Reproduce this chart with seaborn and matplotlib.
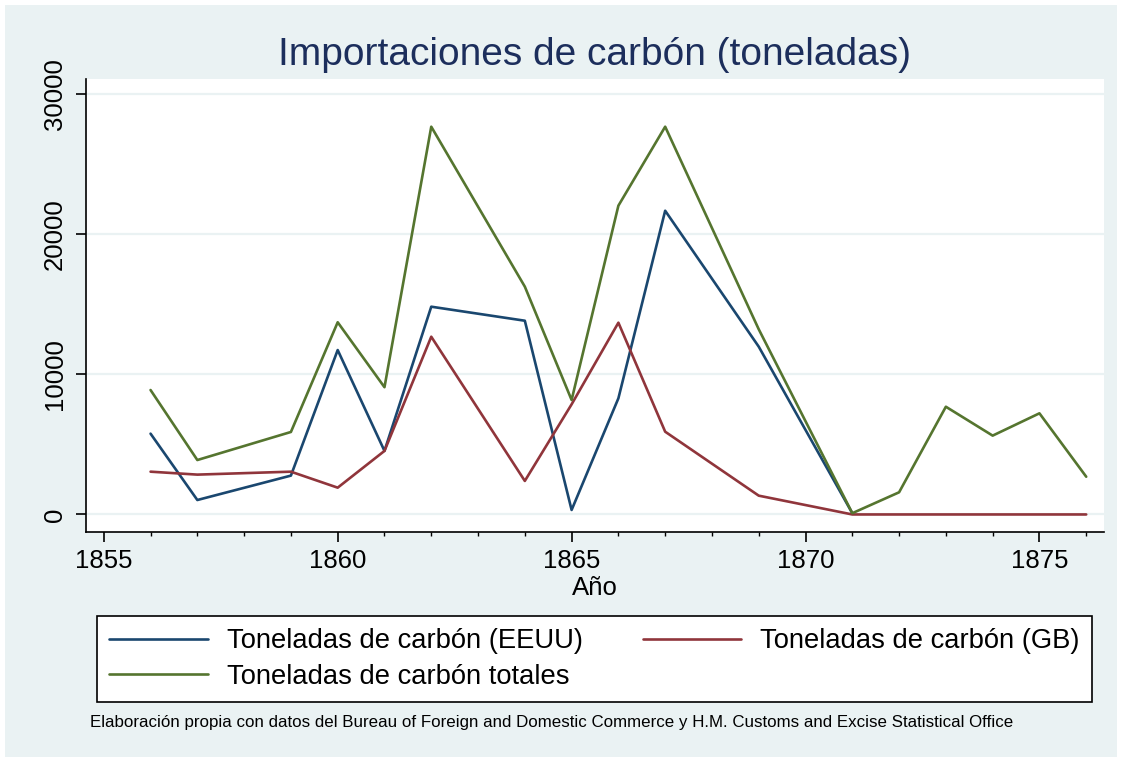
import matplotlib
matplotlib.use("Agg")
import matplotlib.pyplot as plt
import seaborn as sns
import pandas as pd
from matplotlib.patches import Rectangle
from matplotlib.ticker import MultipleLocator

# ---- data ----
years_eeuu = [1856, 1857, 1859, 1860, 1861, 1862, 1864, 1865, 1866, 1867, 1869, 1871]
eeuu = [5760, 1030, 2770, 11720, 4530, 14810, 13810, 320, 8280, 21650, 11960, 90]

years_gb = [1856, 1857, 1859, 1860, 1861, 1862, 1864, 1865, 1866, 1867, 1869, 1871,
            1872, 1873, 1874, 1875, 1876]
gb = [3050, 2840, 3050, 1910, 4530, 12670, 2390, 7850, 13670, 5900, 1340, 0,
      0, 0, 0, 0, 0]

years_total = years_gb
total = [8870, 3880, 5880, 13700, 9070, 27640, 16240, 8160, 22010, 27640, 13200, 90,
         1580, 7680, 5620, 7210, 2690]

label_eeuu = "Toneladas de carbón (EEUU)"
label_gb = "Toneladas de carbón (GB)"
label_total = "Toneladas de carbón totales"

title = "Importaciones de carbón (toneladas)"
xlabel = "Año"
note = ("Elaboración propia con datos del Bureau of Foreign and Domestic Commerce "
        "y H.M. Customs and Excise Statistical Office")
yticks = [0, 10000, 20000, 30000]
xticks = [1855, 1860, 1865, 1870, 1875]

df = pd.concat([
    pd.DataFrame({"Año": years_eeuu, "valor": eeuu, "serie": label_eeuu}),
    pd.DataFrame({"Año": years_gb, "valor": gb, "serie": label_gb}),
    pd.DataFrame({"Año": years_total, "valor": total, "serie": label_total}),
], ignore_index=True)

palette = {label_eeuu: "#1a476f", label_gb: "#90353b", label_total: "#55752f"}

sns.set_theme(style="white")
plt.rcParams["font.family"] = ["Liberation Sans", "DejaVu Sans"]
plt.rcParams["text.color"] = "black"
plt.rcParams["axes.labelcolor"] = "black"
plt.rcParams["xtick.color"] = "black"
plt.rcParams["ytick.color"] = "black"

W, H = 1122, 762
fig = plt.figure(figsize=(W / 100, H / 100), dpi=100, facecolor="white")
fig.patches.append(Rectangle((5 / W, 5 / H), (W - 10) / W, (H - 10) / H,
                             transform=fig.transFigure, facecolor="#EAF2F3",
                             edgecolor="none", zorder=-10))

ax = fig.add_axes([86 / W, 1 - 532 / H, (1104 - 86) / W, (532 - 79) / H])
ax.set_facecolor("white")

sns.lineplot(data=df, x="Año", y="valor", hue="serie", palette=palette,
             hue_order=[label_eeuu, label_gb, label_total], sort=True,
             linewidth=1.9, ax=ax, legend=False, estimator=None)

ax.set_xlim(1854.62, 1876.38)
ax.set_ylim(-1250, 31040)
ax.set_xticks(xticks)
ax.xaxis.set_minor_locator(MultipleLocator(1))
ax.set_yticks(yticks)
ax.set_yticklabels([str(v) for v in yticks], rotation=90, va="center")
ax.tick_params(axis="both", which="major", length=7.2, width=1.2, color="black",
               labelsize=18.5, direction="out", pad=5, labelcolor="black")
ax.tick_params(axis="x", which="minor", length=3.2, width=1.0, color="black",
               direction="out", bottom=True)
ax.tick_params(axis="y", which="major", pad=6.5)
ax.tick_params(bottom=True, left=True)
ax.grid(axis="y", which="major", color="#EAF2F3", linewidth=1.6)
ax.set_axisbelow(True)
for s in ["top", "right"]:
    ax.spines[s].set_visible(False)
for s in ["left", "bottom"]:
    ax.spines[s].set_color("black")
    ax.spines[s].set_linewidth(1.2)
ax.set_xlabel(xlabel, fontsize=18.5, labelpad=2, color="black")
ax.set_ylabel("")

fig.text(595 / W, 1 - 55 / H, title, ha="center", va="center", fontsize=28,
         color="#1c2e5c")

# legend
handles = [plt.Line2D([], [], color=palette[l], linewidth=1.9)
           for l in [label_eeuu, label_total, label_gb]]
labels = [label_eeuu, label_total, label_gb]
leg = fig.legend(handles, labels, ncol=2, mode="expand",
                 bbox_to_anchor=(97 / W, 1 - 702 / H, (1092 - 97) / W, (702 - 617) / H),
                 loc="lower left", fontsize=19.7, frameon=True, fancybox=False,
                 framealpha=1.0, handlelength=3.6, handletextpad=0.7,
                 borderaxespad=0, borderpad=0.44, labelspacing=0.36,
                 columnspacing=2.0)
leg.get_frame().set_edgecolor("black")
leg.get_frame().set_linewidth(1.2)
leg.get_frame().set_facecolor("white")
for t in leg.get_texts():
    t.set_color("black")

fig.text(90 / W, 1 - 722 / H, note, ha="left", va="center", fontsize=12.2,
         color="black")

fig.savefig("out.png", dpi=100, facecolor="white")
